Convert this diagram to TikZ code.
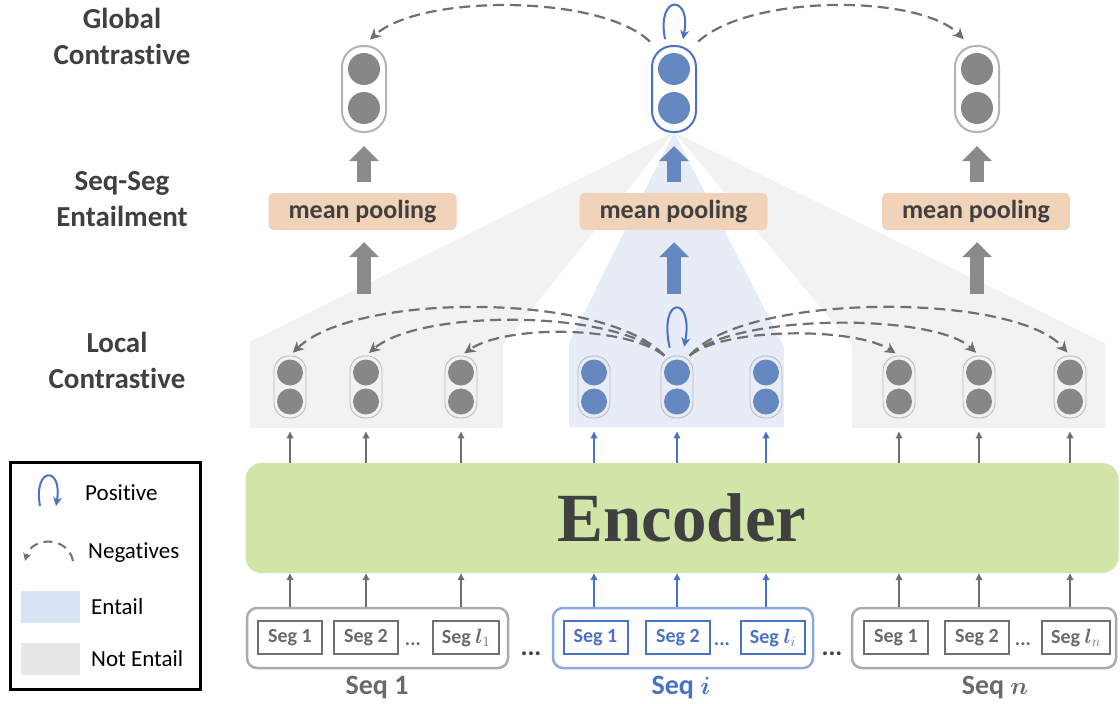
\documentclass[tikz,border=0pt]{standalone}
\usepackage{fontspec}
\usepackage{bm}
\setmainfont{Carlito}[Ligatures=NoCommon]
\newfontfamily\encfont{Liberation Serif}
\usetikzlibrary{arrows.meta}
\definecolor{txt}{HTML}{404040}
\definecolor{capg}{HTML}{B3B3B3}
\definecolor{capb}{HTML}{4A72C4}
\definecolor{dotg}{HTML}{878787}
\definecolor{dotb}{HTML}{6688C0}
\definecolor{lcapc}{HTML}{BBBBBB}
\definecolor{regg}{HTML}{F2F2F2}
\definecolor{regb}{HTML}{E7ECF6}
\definecolor{mpc}{HTML}{F0D3B8}
\definecolor{fatg}{HTML}{8A8A8A}
\definecolor{fatb}{HTML}{6688C0}
\definecolor{thg}{HTML}{6E6E6E}
\definecolor{thb}{HTML}{4A72C4}
\definecolor{encc}{HTML}{D1E5A9}
\definecolor{negc}{HTML}{707070}
\definecolor{seqg}{HTML}{ABABAB}
\definecolor{seqb}{HTML}{8FA9DD}
\definecolor{segg}{HTML}{707070}
\definecolor{segt}{HTML}{6A6A6A}
\definecolor{entc}{HTML}{DAE3F3}
\definecolor{nentc}{HTML}{E7E7E7}
\begin{document}
\begin{tikzpicture}[x=1pt,y=-1pt,
  lab/.style={font=\fontsize{29}{36}\selectfont\bfseries, text=txt, align=center, inner sep=0pt},
  gcapG/.style={draw=capg, line width=2pt, rounded corners=21pt, minimum width=44pt, minimum height=86pt, inner sep=0pt},
  gcapB/.style={gcapG, draw=capb},
  lcap/.style={draw=lcapc, line width=0.9pt, rounded corners=15pt, minimum width=32pt, minimum height=62pt, inner sep=0pt},
  mpool/.style={fill=mpc, rounded corners=5pt, minimum width=188pt, minimum height=37pt, inner sep=0pt, font=\fontsize{26}{26}\selectfont\bfseries, text=txt},
  fatG/.style={draw=fatg, line width=14pt, -{Triangle[width=29pt,length=15pt]}},
  fatB/.style={fatG, draw=fatb},
  thinG/.style={draw=thg, line width=1.6pt, -{Triangle[width=6.5pt,length=7pt]}},
  thinB/.style={thinG, draw=thb},
  negarc/.style={draw=negc, line width=2.2pt, dash pattern=on 11pt off 6pt, -{Stealth[length=11pt,width=11pt,inset=3.5pt]}},
  posarc/.style={draw=capb, line width=2pt, -{Stealth[length=9pt,width=9pt,inset=3pt]}},
  encbox/.style={fill=encc, rounded corners=16pt, minimum width=873pt, minimum height=110pt, inner sep=0pt, font=\encfont\fontsize{69}{69}\selectfont\bfseries, text=txt},
  seqG/.style={draw=seqg, line width=2.5pt, rounded corners=10pt, minimum height=60pt, inner sep=0pt},
  seqB/.style={seqG, draw=seqb},
  segG/.style={draw=segg, line width=2pt, minimum width=64pt, minimum height=33pt, inner sep=0pt, font=\fontsize{20}{20}\selectfont\bfseries, text=segt},
  segB/.style={segG, draw=thb, text=thb},
  dotsG/.style={font=\fontsize{20}{20}\selectfont\bfseries, text=segt, inner sep=0pt, anchor=base},
  dotsB/.style={dotsG, text=thb},
  bigdots/.style={font=\fontsize{26}{26}\selectfont\bfseries, text=txt, inner sep=0pt, anchor=base},
  seqlabG/.style={font=\fontsize{28}{28}\selectfont\bfseries, text=segt, inner sep=0pt},
  seqlabB/.style={seqlabG, text=thb},
  legtext/.style={font=\fontsize{23}{23}\selectfont, text=black, anchor=west, inner sep=0pt},
  legbox/.style={draw=black, line width=3pt, minimum width=190pt, minimum height=227pt, inner sep=0pt},
  swatch/.style={minimum width=59pt, minimum height=32pt, inner sep=0pt}
]
\useasboundingbox (0,0) rectangle (1120,704);

% shaded regions
\fill[regg] (250,428) -- (250,342) -- (674,132) -- (503,345) -- (503,428) -- cycle;
\fill[regg] (852,428) -- (852,345) -- (674,132) -- (1105,343) -- (1105,428) -- cycle;
\fill[regb] (569,427) -- (569,343) -- (674,132) -- (784,347) -- (784,427) -- cycle;

% left labels
\node[lab] (tglob) at (122,36) {Global\\Contrastive};
\node[lab] (tseq) at (122,199) {Seq-Seg\\Entailment};
\node[lab] (tloc) at (117,360) {Local\\Contrastive};

% global capsules
\node[gcapG] (g1) at (364,89) {};
\node[gcapB] (g2) at (674,89) {};
\node[gcapG] (g3) at (977,89) {};
\foreach \n/\c in {g1/dotg, g2/dotb, g3/dotg}{
  \fill[\c] (\n) ++(0,-20) circle (16pt);
  \fill[\c] (\n) ++(0,19) circle (16pt);
}

% mean pooling
\node[mpool] (mp1) at (362.5,211.5) {mean pooling};
\node[mpool] (mp2) at (673.5,211.5) {mean pooling};
\node[mpool] (mp3) at (976,211.5) {mean pooling};
\coordinate (a1) at (364,294);
\coordinate (a2) at (674,294);
\coordinate (a3) at (977,294);
\draw[fatG, shorten <=11pt, shorten >=13pt] (mp1.north -| g1) -- (g1.south);
\draw[fatB, shorten <=11pt, shorten >=13pt] (mp2.north -| g2) -- (g2.south);
\draw[fatG, shorten <=11pt, shorten >=13pt] (mp3.north -| g3) -- (g3.south);
\draw[fatG, shorten >=12pt] (a1) -- (a1 |- mp1.south);
\draw[fatB, shorten >=12pt] (a2) -- (a2 |- mp2.south);
\draw[fatG, shorten >=12pt] (a3) -- (a3 |- mp3.south);

% global contrastive arcs
\draw[negarc, shorten <=5pt, shorten >=8pt] (g2.115) .. controls (600,-6) and (420,-6) .. (g1.north);
\draw[negarc, shorten <=5pt, shorten >=8pt] (g2.65) .. controls (750,-6) and (920,-6) .. (g3.100);
\draw[posarc, shorten <=6pt, shorten >=6pt] (g2.100) .. controls (656,-6) and (692,-6) .. (g2.80);

% local capsules
\foreach \n/\x/\c in {l1/290/dotg, l2/366/dotg, l3/461/dotg, l4/594/dotb, l5/677/dotb, l6/766/dotb, l7/899/dotg, l8/979/dotg, l9/1070/dotg}{
  \node[lcap] (\n) at (\x,387) {};
  \fill[\c] (\n) ++(0,-14.5) circle (13pt);
  \fill[\c] (\n) ++(0,14.5) circle (13pt);
}

% local contrastive arcs
\draw[negarc, shorten >=4pt] (l5.112) .. controls (605,292) and (355,292) .. (l1.north);
\draw[negarc, shorten >=4pt] (l5.112) .. controls (615,309) and (420,309) .. (l2.north);
\draw[negarc, shorten >=4pt] (l5.112) .. controls (625,325) and (505,325) .. (l3.north);
\draw[negarc, shorten >=4pt] (l5.68) .. controls (725,327) and (855,327) .. (l7.north);
\draw[negarc, shorten >=4pt] (l5.68) .. controls (735,313) and (935,313) .. (l8.north);
\draw[negarc, shorten >=4pt] (l5.68) .. controls (745,292) and (1015,292) .. (l9.north);
\draw[posarc, shorten <=8pt, shorten >=9pt] (l5.100) .. controls (658,295) and (694,295) .. (l5.80);

% encoder
\node[encbox] (enc) at (682,518) {Encoder};
\foreach \n in {l1,l2,l3,l7,l8,l9}{
  \draw[thinG, shorten >=13pt] (enc.north -| \n) -- (\n.south);
}
\foreach \n in {l4,l5,l6}{
  \draw[thinB, shorten >=13pt] (enc.north -| \n) -- (\n.south);
}

% sequences
\node[seqG, minimum width=261pt] (sq1) at (377.5,638) {};
\node[seqB, minimum width=260pt] (sqi) at (683,638) {};
\node[seqG, minimum width=264pt] (sqn) at (984,638) {};

\node[segG] (s11) at (290,637.5) {Seg 1};
\node[segG] (s12) at (366,637.5) {Seg 2};
\node[segG, minimum width=66pt] (s13) at (466,637.5) {Seg $\bm{l}_1$};
\node[dotsG] (d1) at (413,645) {...};

\node[segB] (si1) at (595.5,637.5) {Seg 1};
\node[segB] (si2) at (678,637.5) {Seg 2};
\node[segB] (si3) at (773,637.5) {Seg $\bm{l}_i$};
\node[dotsB] (d2) at (722,645) {...};

\node[segG] (sn1) at (896,637.5) {Seg 1};
\node[segG] (sn2) at (977,637.5) {Seg 2};
\node[segG, minimum width=68pt] (sn3) at (1076,637.5) {Seg $\bm{l}_n$};
\node[dotsG] (d3) at (1023,645) {...};

\node[bigdots] (bd1) at (531,655) {...};
\node[bigdots] (bd2) at (832,655) {...};

\node[seqlabG] (q1) at (377,688) {Seq 1};
\node[seqlabB] (qi) at (681,688) {Seq $\bm{i}$};
\node[seqlabG] (qn) at (995,688) {Seq $\bm{n}$};

\foreach \t in {l1,l2,l3,l7,l8,l9}{
  \draw[thinG] (\t |- sq1.north) -- (\t |- enc.south);
}
\foreach \t in {l4,l5,l6}{
  \draw[thinB] (\t |- sqi.north) -- (\t |- enc.south);
}

% legend
\node[legbox] (leg) at (105,575.5) {};
\draw[posarc] (40,506) .. controls (33,466) and (63,466) .. (56,506);
\node[legtext] (lp) at (85,493) {Positive};
\draw[negarc, line width=2pt, dash pattern=on 9pt off 6pt, -{Stealth[length=8pt,width=8pt,inset=2.5pt]}] (73,561) .. controls (68,536) and (32,536) .. (25,561);
\node[legtext] (ln) at (88,553) {Negatives};
\node[swatch, fill=entc] (se) at (50.5,607) {};
\node[legtext] (le) at (91,607) {Entail};
\node[swatch, fill=nentc] (sn) at (50.5,658.5) {};
\node[legtext] (lne) at (91,658.5) {Not Entail};
\end{tikzpicture}
\end{document}
